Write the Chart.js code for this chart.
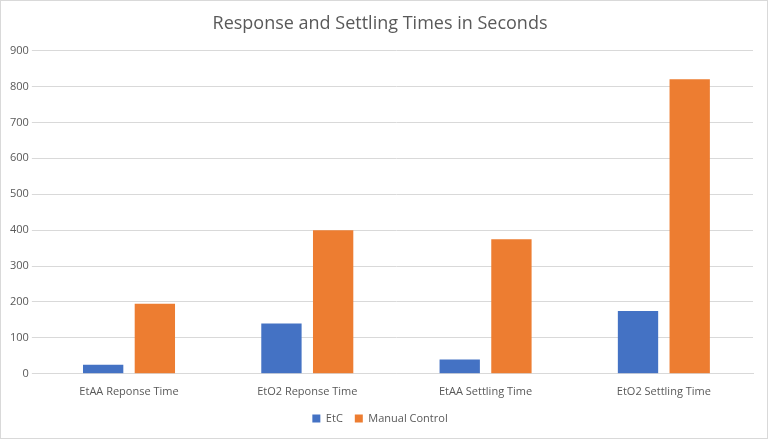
<!DOCTYPE html>
<html>
<head>
<script src="https://cdn.jsdelivr.net/npm/chart.js@4"></script>
<style>
html,body{margin:0;padding:0;background:#fff;}
#wrap{width:766px;height:437px;border:1px solid #d9d9d9;}
</style>
</head>
<body>
<div id="wrap"><canvas id="canvas" width="766" height="437"></canvas></div>
<script>
var categories = ['EtAA Reponse Time', 'EtO2 Reponse Time', 'EtAA Settling Time', 'EtO2 Settling Time'];
var etc = [25, 140, 40, 175];
var manual = [195, 400, 375, 820];

var font = "'Open Sans', 'Liberation Sans', sans-serif";
Chart.defaults.font.family = font;
Chart.defaults.color = '#595959';

var config = {
    type: 'bar',
    data: {
        labels: categories,
        datasets: [
            {label: 'EtC', data: etc, backgroundColor: '#4472c4'},
            {label: 'Manual Control', data: manual, backgroundColor: '#ed7d31'}
        ]
    },
    options: {
        responsive: false,
        animation: false,
        layout: {padding: {left: 6, right: 14, top: 4, bottom: 4}},
        datasets: {bar: {categoryPercentage: 0.58, barPercentage: 0.78}},
        scales: {
            x: {
                grid: {display: false},
                border: {color: '#d9d9d9'},
                ticks: {font: {size: 11}, color: '#595959'}
            },
            y: {
                min: 0, max: 900,
                ticks: {stepSize: 100, font: {size: 11}, color: '#595959'},
                grid: {color: '#d9d9d9'},
                border: {display: false}
            }
        },
        plugins: {
            title: {
                display: true,
                text: 'Response and Settling Times in Seconds',
                font: {size: 18, weight: 'normal'},
                color: '#595959',
                padding: {top: 8, bottom: 16}
            },
            legend: {
                position: 'bottom',
                labels: {boxWidth: 8, boxHeight: 8, font: {size: 11}, color: '#595959', padding: 12}
            }
        }
    }
};

window.onload = function() {
    var ctx = document.getElementById('canvas').getContext('2d');
    window.myBar = new Chart(ctx, config);
};
</script>
</body>
</html>
